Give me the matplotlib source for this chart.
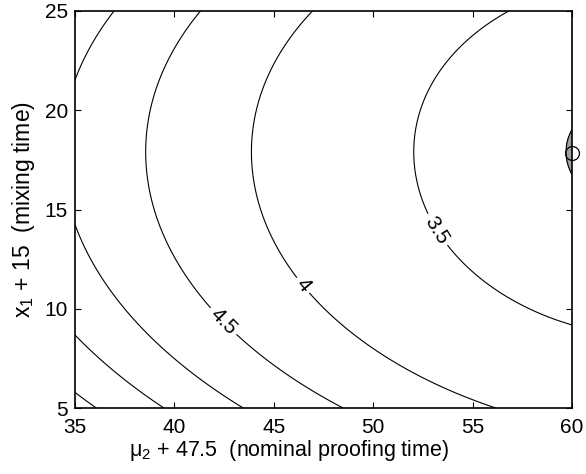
import numpy as np
import matplotlib
matplotlib.use("Agg")
import matplotlib.pyplot as plt

plt.rcParams['font.family'] = ['Liberation Sans', 'DejaVu Sans']
plt.rcParams['mathtext.fontset'] = 'custom'
plt.rcParams['mathtext.rm'] = 'Liberation Sans'

# Axis ranges (mu2 + 47.5, x1 + 15)
x_range = [35, 60]
y_range = [5, 25]
x_ticks = [35, 40, 45, 50, 55, 60]
y_ticks = [5, 10, 15, 20, 25]

pt_level = [3.5, 3.5, 3.5,
            4.0, 4.0, 4.0, 4.0,
            4.5, 4.5, 4.5, 4.5,
            5.0, 5.0, 5.0, 5.0,
            5.5, 5.5,
            6.0, 6.0]
pt_x = [52.08, 56.83, 60.0,
        43.86, 47.18, 56.83, 45.84,
        38.40, 41.22, 48.55, 45.84,
        35.0, 35.0, 36.89, 43.23,
        35.0, 39.25,
        35.0, 36.07]
pt_y = [17.9, 25.0, 9.08,
        17.9, 25.0, 5.0, 12.37,
        17.9, 25.0, 5.0, 6.73,
        14.32, 21.61, 25.0, 5.0,
        8.78, 5.0,
        5.9, 5.0]
# the innermost line is fitted a bit harder
pt_weight = [3, 3, 3] + [1] * 16

centre = [62.1, 17.9]        # centre of the (quadratic-like) surface
lens_tip = 59.7              # left tip of the small grey region at x = 60
label_levels = [3.5, 4.0, 4.5]
label_pos = [(53.25, 14.0), (46.5, 11.2), (42.42, 9.33)]
optimum = (60.0, 17.86)


def terms(x, y):
    u = (centre[0] - np.asarray(x, float)) / 10
    v = (np.asarray(y, float) - centre[1]) / 10
    return [np.ones_like(u), u**2, u**3, v**2, u * v**2, u**2 * v**2, v**3, v**4]


w = np.array(pt_weight, float)
A = np.stack(terms(pt_x, pt_y), axis=1) * w[:, None]
coef, *_ = np.linalg.lstsq(A, np.array(pt_level) * w, rcond=None)


def surface(x, y):
    return sum(c * t for c, t in zip(coef, terms(x, y)))


x = np.linspace(x_range[0], x_range[1], 400)
y = np.linspace(y_range[0], y_range[1], 400)
X, Y = np.meshgrid(x, y)
Z = surface(X, Y)
lens_level = float(surface(lens_tip, centre[1]))
plain_levels = [lens_level, 5.0, 5.5, 6.0]

fig = plt.figure(figsize=(5.86, 4.74), dpi=100)
ax = fig.add_axes([75 / 586, 66 / 474, 497 / 586, 397 / 474])

# small region round the optimum, filled grey
ax.contourf(X, Y, Z, levels=[Z.min() - 1, lens_level], colors=['#a0a0a0'])
ax.contour(X, Y, Z, levels=plain_levels, colors='k', linewidths=0.8)
cs = ax.contour(X, Y, Z, levels=label_levels, colors='k', linewidths=0.8)
ax.clabel(cs, manual=label_pos, fmt='%g', inline=True, fontsize=15,
          inline_spacing=4)

ax.plot(optimum[0], optimum[1], 'o', mfc='none', mec='k', ms=10,
        mew=0.9, clip_on=False)

ax.set_xlim(x_range)
ax.set_ylim(y_range)
ax.set_xticks(x_ticks)
ax.set_yticks(y_ticks)
ax.tick_params(direction='in', length=4.5, width=0.8, labelsize=15,
               top=True, right=True)
ax.tick_params(axis='x', pad=7)
ax.tick_params(axis='y', pad=5)
for sp in ax.spines.values():
    sp.set_linewidth(1.2)

ax.set_xlabel(r'$\mathregular{\mu_2}$ + 47.5  (nominal proofing time)',
              fontsize=15.5, labelpad=1)
ax.xaxis.label.set_x(0.43)
ax.set_ylabel(r'$\mathregular{x_1}$ + 15  (mixing time)', fontsize=16.5,
              labelpad=5.5)

fig.savefig('out.png', dpi=100)
